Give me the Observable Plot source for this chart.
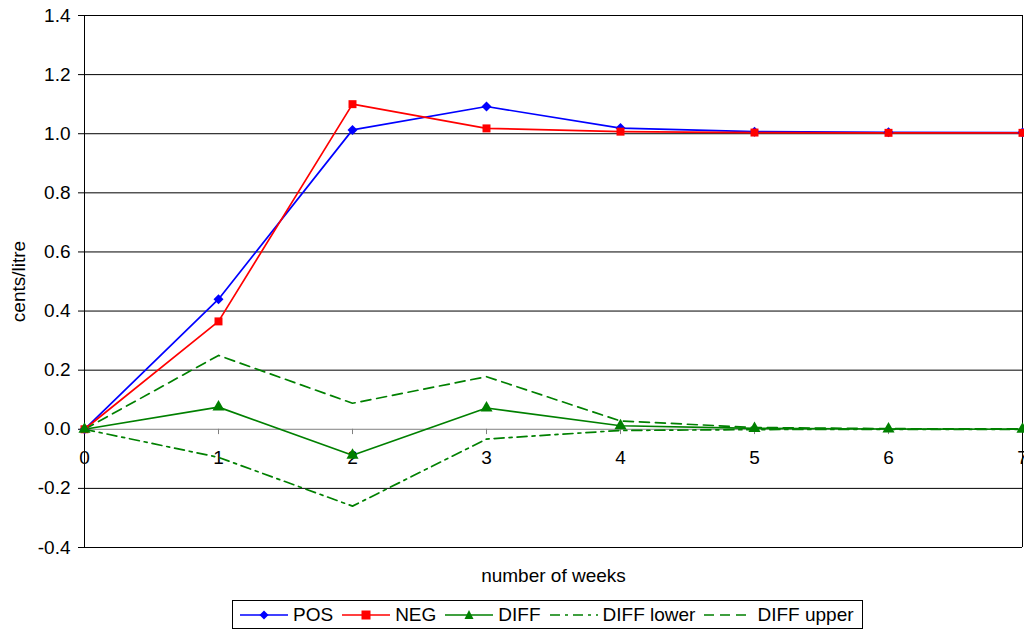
<!DOCTYPE html>
<html>
<head>
<meta charset="utf-8">
<script src="https://cdn.jsdelivr.net/npm/d3@7"></script>
<script src="https://cdn.jsdelivr.net/npm/@observablehq/plot@0.6"></script>
<style>
  body { margin: 0; background: #fff; font-family: "Liberation Sans", Arial, sans-serif; }
  #chart { position: relative; width: 1024px; height: 632px; }
  #legend { position: absolute; left: 232px; top: 600px; width: 631px; height: 29px; border: 1px solid #000;
            display: flex; align-items: center; justify-content: flex-start; gap: 9px; font-size: 19px; color: #000;
            box-sizing: border-box; padding: 0 0 0 7px; }
  .item { display: flex; align-items: center; gap: 5px; white-space: nowrap; }
  .item svg { display: block; }
</style>
</head>
<body>
<div id="chart"></div>
<script>
const weeks = [0, 1, 2, 3, 4, 5, 6, 7];
const pos = [0, 0.44, 1.013, 1.092, 1.019, 1.007, 1.005, 1.004];
const neg = [0, 0.365, 1.10, 1.018, 1.007, 1.004, 1.003, 1.003];
const diff = [0, 0.075, -0.088, 0.072, 0.012, 0.003, 0.001, 0.0];
const diffLower = [0, -0.095, -0.26, -0.033, -0.004, -0.001, 0.0, 0.0];
const diffUpper = [0, 0.25, 0.088, 0.178, 0.028, 0.006, 0.002, 0.001];
const yTicks = [-0.4, -0.2, 0, 0.2, 0.4, 0.6, 0.8, 1.0, 1.2, 1.4];

const series = [
  {name: "POS", values: pos, color: "#0000ff", symbol: "diamond2", r: 4.5, dash: null},
  {name: "NEG", values: neg, color: "#ff0000", symbol: "square", r: 4.5, dash: null},
  {name: "DIFF", values: diff, color: "#008000", symbol: "triangle", r: 4.5, dash: null},
  {name: "DIFF lower", values: diffLower, color: "#008000", symbol: null, dash: "10,5,3,5"},
  {name: "DIFF upper", values: diffUpper, color: "#008000", symbol: null, dash: "10,6"}
];
const rows = series.map(s => weeks.map((w, i) => ({week: w, value: s.values[i]})));

const marks = [
  Plot.ruleY(yTicks.filter(v => v !== 0), {stroke: "#000", strokeWidth: 1, strokeOpacity: 1}),
  Plot.ruleY([0], {stroke: "#808080", strokeWidth: 1}),
  Plot.ruleX(weeks.filter(w => w > 0 && w < 7), {y1: 0, y2: -0.018, stroke: "#808080"}),
  Plot.ruleX([7], {stroke: "#000"}),
  Plot.ruleX([0], {stroke: "#000"}),
  Plot.axisY({ticks: yTicks, tickFormat: d => d.toFixed(1), tickSize: 6, tickPadding: 8, fontSize: 19,
              label: "cents/litre", labelAnchor: "center", labelArrow: "none", labelOffset: 73}),
  Plot.text(weeks, {x: d => d, y: 0, text: d => String(d), dy: 29, fontSize: 19, fill: "#000"}),
  Plot.text(["number of weeks"], {frameAnchor: "bottom", dy: 34, fontSize: 19, fill: "#000"})
];
series.forEach((s, k) => {
  marks.push(Plot.line(rows[k], {x: "week", y: "value", stroke: s.color, strokeWidth: 1.7,
    strokeDasharray: s.dash || undefined, curve: "linear"}));
});
series.forEach((s, k) => {
  if (s.symbol) marks.push(Plot.dot(rows[k], {x: "week", y: "value", fill: s.color, stroke: "none",
    symbol: () => s.symbol, r: s.r}));
});

const chart = Plot.plot({
  width: 1024,
  height: 597,
  marginLeft: 84,
  marginRight: 2,
  marginTop: 15,
  marginBottom: 50,
  style: {fontFamily: "Liberation Sans, Arial, sans-serif", fontSize: "19px", color: "#000", overflow: "visible"},
  x: {domain: [0, 7], axis: null},
  y: {domain: [-0.4, 1.4], axis: null},
  symbol: {type: "identity"},
  marks
});
const holder = document.getElementById("chart");
holder.appendChild(chart);

const legend = document.createElement("div");
legend.id = "legend";
series.forEach(s => {
  const it = document.createElement("div");
  it.className = "item";
  const sym = s.symbol === "diamond2" ? '<path d="M24,9.5 L28.5,14 L24,18.5 L19.5,14Z" fill="' + s.color + '"/>'
    : s.symbol === "square" ? '<rect x="19.5" y="9.5" width="9" height="9" fill="' + s.color + '"/>'
    : s.symbol === "triangle" ? '<path d="M24,9 L28.5,18 L19.5,18Z" fill="' + s.color + '"/>' : "";
  it.innerHTML = '<svg width="48" height="28"><line x1="0" x2="48" y1="14" y2="14" stroke="' + s.color +
    '" stroke-width="1.7"' + (s.dash ? ' stroke-dasharray="' + (s.dash === "10,6" ? "10,6" : "10,5,3,5") + '"' : "") + '/>' + sym + '</svg><span>' + s.name + '</span>';
  legend.appendChild(it);
});
holder.appendChild(legend);
</script>
</body>
</html>
